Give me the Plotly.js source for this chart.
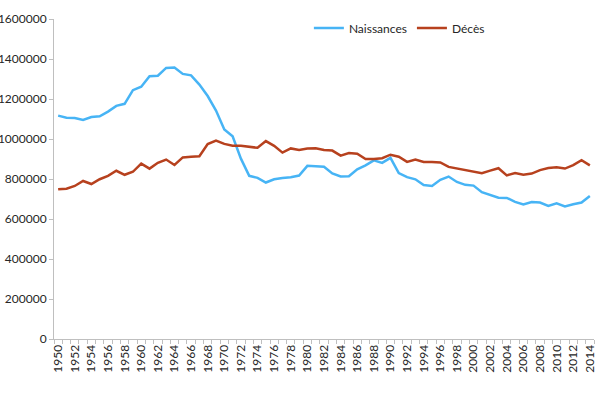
<!DOCTYPE html>
<html>
<head>
<meta charset="utf-8">
<script src="https://cdn.plot.ly/plotly-3.0.1.min.js"></script>
<style>html,body{margin:0;padding:0;background:#fff;}#chart{width:600px;height:396px;}</style>
</head>
<body>
<div id="chart"></div>
<script>
var years = [];
for (var y = 1950; y <= 2014; y++) years.push(y);

var naissances = [1116701,1106380,1105084,1095029,1109743,1113408,1137169,1165555,1175870,1243922,
1261614,1313505,1316534,1355595,1357304,1325386,1318303,1272276,1214968,1142366,
1047737,1013396,901657,815969,805500,782310,798334,805496,808619,817217,
865789,862100,861275,827933,812292,813803,848232,867969,892993,880459,
905675,830019,809114,798447,769603,765221,796013,812173,785034,770744,
766999,734475,719250,706721,705622,685795,672724,684862,682514,665126,
677947,662685,673544,682069,714927];

var deces = [748329,751767,765157,790031,774836,798815,815945,841069,821109,836103,
876721,851804,880829,897253,870210,907908,911781,913775,975000,992000,
975664,966000,965689,962000,956000,989648,966000,932000,953000,945000,
952371,954000,945000,942000,917000,929649,926000,900000,900000,904000,
921445,911245,885443,897270,884661,884588,882843,860389,852382,846330,
838797,828541,841686,853946,818271,830227,821627,827155,844439,854544,
858768,852328,869582,893825,868356];

var labelYears = [];
for (var t = 1950; t <= 2014; t += 2) labelYears.push(t);
var yTicks = [0,200000,400000,600000,800000,1000000,1200000,1400000,1600000];

var font = {family: 'Lato, "Open Sans", sans-serif', size: 12, color: '#262626'};

var data = [
  {x: years, y: naissances, type: 'scatter', mode: 'lines', name: 'Naissances',
   line: {color: '#47B4F5', width: 2.5}},
  {x: years, y: deces, type: 'scatter', mode: 'lines', name: 'Décès',
   line: {color: '#B7411E', width: 2.5}}
];

var layout = {
  width: 600, height: 396,
  margin: {l: 54, r: 6, t: 19, b: 57, pad: 0},
  paper_bgcolor: '#fff', plot_bgcolor: '#fff',
  font: font,
  showlegend: true,
  legend: {orientation: 'h', x: 0.472, xanchor: 'left', y: 0.972, yanchor: 'middle',
           font: font, bgcolor: 'rgba(0,0,0,0)'},
  xaxis: {
    range: [1949.5, 2014.5], tickvals: labelYears, ticktext: labelYears.map(String),
    tickangle: -90, ticks: '', showgrid: false, zeroline: false,
    showline: true, linecolor: '#bfbfbf', linewidth: 1,
    tickfont: font, automargin: false, fixedrange: true,
    minor: {tick0: 1949.5, dtick: 1, ticks: 'outside', ticklen: 4, tickcolor: '#bfbfbf', showgrid: false}
  },
  yaxis: {
    range: [0, 1600000], tickvals: yTicks, ticktext: yTicks.map(String),
    ticks: 'outside', ticklen: 4, tickcolor: '#bfbfbf',
    showgrid: false, zeroline: false, showline: true, linecolor: '#bfbfbf', linewidth: 1,
    tickfont: font, automargin: false, fixedrange: true
  }
};

Plotly.newPlot('chart', data, layout, {displayModeBar: false, staticPlot: true});
</script>
</body>
</html>
